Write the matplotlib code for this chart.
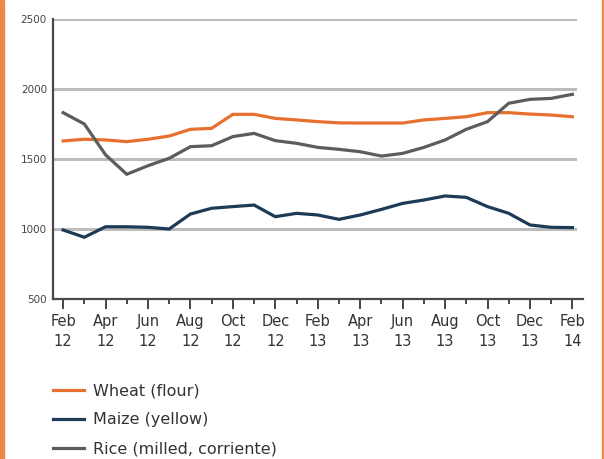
import matplotlib
matplotlib.use("Agg")
import matplotlib.pyplot as plt
from matplotlib.patches import Rectangle

months = ["Feb\n12", "Mar", "Apr\n12", "May", "Jun\n12", "Jul", "Aug\n12", "Sep", "Oct\n12", "Nov",
          "Dec\n12", "Jan", "Feb\n13", "Mar", "Apr\n13", "May", "Jun\n13", "Jul", "Aug\n13", "Sep",
          "Oct\n13", "Nov", "Dec\n13", "Jan", "Feb\n14"]
tick_labels = ["Feb\n12", "Apr\n12", "Jun\n12", "Aug\n12", "Oct\n12", "Dec\n12", "Feb\n13",
               "Apr\n13", "Jun\n13", "Aug\n13", "Oct\n13", "Dec\n13", "Feb\n14"]

wheat = [1629, 1641, 1636, 1624, 1641, 1664, 1712, 1719, 1819, 1819, 1790, 1779, 1767,
         1758, 1757, 1757, 1757, 1779, 1790, 1802, 1831, 1831, 1821, 1814, 1802]
maize = [993, 941, 1016, 1016, 1012, 1000, 1107, 1148, 1160, 1171, 1088, 1112, 1100,
         1069, 1100, 1140, 1183, 1207, 1236, 1226, 1160, 1112, 1029, 1012, 1010]
rice = [1831, 1750, 1530, 1391, 1452, 1505, 1588, 1595, 1660, 1683, 1631, 1612, 1583,
        1569, 1552, 1521, 1540, 1583, 1636, 1712, 1767, 1898, 1926, 1933, 1962]

series_names = ["Wheat (flour)", "Maize (yellow)", "Rice (milled, corriente)"]
colors = ["#e8702f", "#1d3a56", "#5c5c5c"]

plt.rcParams['font.family'] = ['DejaVu Sans']

fig = plt.figure(figsize=(6.04, 4.59), dpi=100)
ax = fig.add_axes([52.5 / 604, 1 - 299 / 459, (583 - 52.5) / 604, (299 - 19) / 459])

x = list(range(len(months)))
handles = []
for vals, c, name in zip([wheat, maize, rice], colors, series_names):
    h, = ax.plot(x, vals, color=c, lw=2.3, label=name, solid_joinstyle='miter', zorder=3)
    handles.append(h)

ax.set_xlim(-0.5, 24.5)
ax.set_ylim(500, 2500)
ax.set_yticks([500, 1000, 1500, 2000, 2500])
ax.set_yticklabels(["500", "1000", "1500", "2000", "2500"], fontsize=7.5, color="#444444")
ax.tick_params(axis='y', length=0, pad=4)
for yv in [1000, 1500, 2000, 2500]:
    ax.axhline(yv, color="#bcbcbc", lw=2.2, zorder=1, xmax=0.985)

ax.set_xticks(list(range(0, 25, 2)))
ax.set_xticklabels(tick_labels, fontsize=10.5, color="#333333", linespacing=1.4)
ax.set_xticks(list(range(1, 25, 2)), minor=True)
ax.tick_params(axis='x', which='major', length=7, width=1.4, color="#444444", pad=4)
ax.tick_params(axis='x', which='minor', length=3.5, width=1.4, color="#444444")

for s in ['top', 'right']:
    ax.spines[s].set_visible(False)
ax.spines['left'].set_color("#4a4a4a")
ax.spines['left'].set_linewidth(1.6)
ax.spines['bottom'].set_color("#4a4a4a")
ax.spines['bottom'].set_linewidth(1.6)

fig.legend(handles=handles, labels=series_names, loc='upper left',
           bbox_to_anchor=(39 / 604, 1 - 369 / 459), frameon=False, fontsize=11.5,
           handlelength=1.9, handletextpad=0.55, labelspacing=0.88, labelcolor="#333333")

fig.patches.append(Rectangle((0, 0), 3.5 / 604, 1, transform=fig.transFigure,
                             color="#f0874a", zorder=10))
fig.patches.append(Rectangle((601.5 / 604, 0), 2.5 / 604, 1, transform=fig.transFigure,
                             color="#f0874a", zorder=10))

fig.savefig("out.png", dpi=100)
